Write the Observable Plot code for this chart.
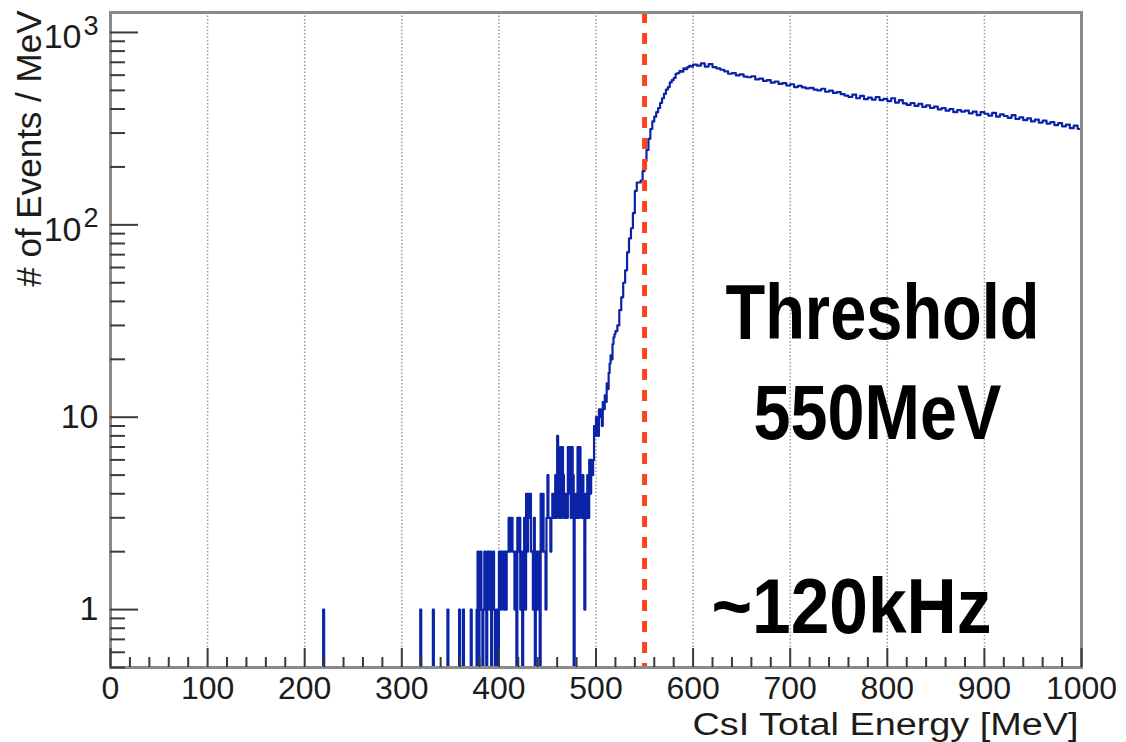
<!DOCTYPE html>
<html><head><meta charset="utf-8">
<script src="https://cdn.jsdelivr.net/npm/d3@7"></script>
<script src="https://cdn.jsdelivr.net/npm/@observablehq/plot@0.6"></script>
<style>html,body{margin:0;padding:0;background:#fff;}</style>
</head><body><div id="chart"></div>
<script>
// ---- data ----
const xMajorTicks = [0,100,200,300,400,500,600,700,800,900,1000];
const yPlainTicks = [1, 10];
const yPowTicks = [100, 1000];
const yPowExp = ["2", "3"];
const yMinorTicks = [0.5,0.6,0.7,0.8,0.9,2,3,4,5,6,7,8,9,20,30,40,50,60,70,80,90,200,300,400,500,600,700,800,900];
const threshold = 550;

// isolated single events (1 MeV bins, count 1)
const singleE = [219, 319, 332, 347, 359, 363, 371];
// 1 MeV bins from 376 to 519
const lowStart = 376;
const lowCounts = [
  0,1,2,0,1,2,1,0,1,2,
  1,0,2,2,1,2,0,1,2,1,
  0,1,1,0,2,2,1,2,2,1,
  2,1,2,2,3,2,3,3,2,2,
  1,2,0,3,2,3,1,2,0,2,
  3,1,4,2,4,3,4,2,2,1,
  3,0,2,1,2,2,0,4,2,4,
  2,2,1,3,5,3,3,2,3,4,
  3,3,5,3,8,7,3,7,3,7,
  5,3,4,3,3,7,4,7,3,7,
  5,0,3,4,3,7,3,7,5,3,
  5,3,1,4,3,5,3,6,4,6,
  5,6,9,8,10,9,8,11,10,11,
  9,12,11,13,12,15,14,17,19,21,
  20,24,26,27
];
// 2 MeV bins from 520 to 600
const riseStart = 520;
const riseCounts = [
  28,30,36,42,50,58,72,85,96,115,
  150,166,166,170,190,215,245,280,315,345,
  365,385,405,430,455,480,505,520,550,565,
  580,610,615,630,625,650,645,660,670,665
];
// 4 MeV bins from 600 to 1000
const tailStart = 600;
const tailCounts = [
  680,672,690,665,685,660,650,640,628,610,
  615,598,605,590,585,592,570,575,560,565,
  548,556,540,545,530,538,520,528,518,512,
  515,505,500,510,492,498,485,490,478,470,
  462,475,455,468,450,458,448,462,445,452,
  440,455,432,445,428,420,430,415,425,410,
  418,405,412,398,405,392,400,385,395,388,
  392,380,388,372,385,378,370,382,365,375,
  368,360,372,355,362,350,358,345,352,340,
  348,336,342,330,338,325,332,318,328,315
];

// ---- build the histogram outline (step) ----
const yMin = 0.5;
const pts = [{x: 0, c: 0}];
for (const e of singleE) { pts.push({x: e, c: 1}); pts.push({x: e + 1, c: 0}); }
lowCounts.forEach((c, i) => pts.push({x: lowStart + i, c}));
riseCounts.forEach((c, i) => pts.push({x: riseStart + 2 * i, c}));
tailCounts.forEach((c, i) => pts.push({x: tailStart + 4 * i, c}));
pts.push({x: 1000, c: tailCounts[tailCounts.length - 1]});

const xMinorTicks = d3.range(0, 1001, 20).filter(d => d % 100 !== 0);
const gridX = xMajorTicks.filter(d => d > 0 && d < 1000);

const font = "'Liberation Sans', Arial, Helvetica, sans-serif";
const tickColor = "#3a3a3a";
const labelColor = "#1c1c1c";

const chart = Plot.plot({
  width: 1126, height: 742,
  marginLeft: 110, marginRight: 45, marginTop: 12, marginBottom: 75,
  x: {domain: [0, 1000]},
  y: {type: "log", domain: [yMin, 1270]},
  style: {fontFamily: font, background: "#fff"},
  marks: [
    Plot.ruleX(gridX, {stroke: "#9a9a9a", strokeWidth: 1.5, strokeDasharray: "1.5,2"}),
    Plot.line(pts, {x: "x", y: d => d.c > 0 ? d.c : yMin, curve: "step-after", stroke: "#0b23a6", strokeWidth: 2.2}),
    Plot.ruleX([threshold], {stroke: "#ff4320", strokeWidth: 5, strokeDasharray: "11,10"}),
    Plot.frame({stroke: "#8a8a8a", strokeWidth: 3}),
    Plot.axisX({ticks: xMajorTicks, tickSize: -19, tickFormat: () => "", stroke: tickColor, strokeWidth: 2, label: null}),
    Plot.axisX({ticks: xMinorTicks, tickSize: -10, tickFormat: () => "", stroke: tickColor, strokeWidth: 2, label: null}),
    Plot.axisX({ticks: xMajorTicks, tickSize: 0, tickPadding: 9, tickFormat: d => String(d), fontSize: 32, fill: labelColor, label: null}),
    Plot.axisY({ticks: [...yPlainTicks, ...yPowTicks], tickSize: -28, tickFormat: () => "", stroke: tickColor, strokeWidth: 2, label: null}),
    Plot.axisY({ticks: yMinorTicks, tickSize: -15, tickFormat: () => "", stroke: tickColor, strokeWidth: 2, label: null}),
    Plot.text(yPlainTicks, {y: d => d, text: d => String(d), frameAnchor: "left", dx: -12, textAnchor: "end", fontSize: 34, fill: labelColor}),
    Plot.text(yPowTicks, {y: d => d, text: () => "10", frameAnchor: "left", dx: -29, dy: 5, textAnchor: "end", fontSize: 34, fill: labelColor}),
    Plot.text(yPowTicks, {y: d => d, text: (d, i) => yPowExp[i], frameAnchor: "left", dx: -12, dy: -6, textAnchor: "end", fontSize: 27, fill: labelColor}),
    Plot.text(["CsI Total Energy [MeV]"], {frameAnchor: "bottom-right", dx: -3, dy: 67, textAnchor: "end", lineAnchor: "bottom", fontSize: 31, fill: labelColor}),
    Plot.text(["# of Events / MeV"], {frameAnchor: "top-left", rotate: -90, dx: -70, dy: -2, textAnchor: "end", lineAnchor: "bottom", fontSize: 35, fill: labelColor}),
    Plot.text(["Threshold"], {frameAnchor: "top-left", dx: 772, dy: 326, textAnchor: "middle", lineAnchor: "bottom", fontSize: 77, fontWeight: "bold", fill: "#000"}),
    Plot.text(["550MeV"], {frameAnchor: "top-left", dx: 767, dy: 426, textAnchor: "middle", lineAnchor: "bottom", fontSize: 77, fontWeight: "bold", fill: "#000"}),
    Plot.text(["~120kHz"], {frameAnchor: "top-left", dx: 741, dy: 620, textAnchor: "middle", lineAnchor: "bottom", fontSize: 77, fontWeight: "bold", fill: "#000"})
  ]
});

// condense / stretch texts to the reference widths
const fitWidth = {"Threshold": 314, "550MeV": 248, "~120kHz": 280, "CsI Total Energy [MeV]": 386};
d3.select(chart).selectAll("text").filter(function () { return fitWidth[this.textContent] !== undefined; })
  .attr("textLength", function () { return fitWidth[this.textContent]; })
  .attr("lengthAdjust", "spacingAndGlyphs");

document.getElementById("chart").appendChild(chart);
</script>
</body></html>
